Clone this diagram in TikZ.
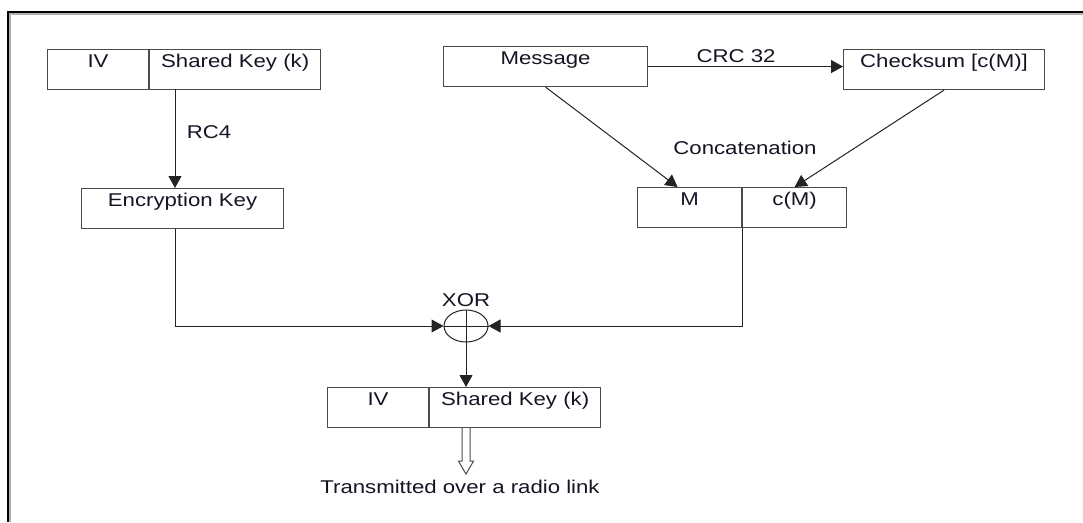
\documentclass[tikz,border=0pt]{standalone}
\usepackage{fontspec}
\setmainfont[FakeStretch=1.2]{Liberation Sans}
\usetikzlibrary{arrows.meta,positioning,calc,shapes.geometric}
\definecolor{wepline}{RGB}{35,35,35}
\definecolor{wepbox}{RGB}{75,75,75}
\definecolor{weptext}{RGB}{20,20,35}
\tikzset{
  cell/.style={draw=wepbox, line width=1.1pt, inner xsep=0pt, inner ysep=0pt,
               text height=18pt, text depth=22pt, anchor=north west,
               font=\fontsize{18.5pt}{20pt}\selectfont, text=weptext},
  lbl/.style={anchor=base, inner sep=0pt, font=\fontsize{18.5pt}{20pt}\selectfont, text=weptext},
  flowarr/.style={-{Triangle[length=12pt,width=13pt]}, wepline, line width=1pt},
  wire/.style={wepline, line width=1pt},
}
\begin{document}
\begin{tikzpicture}[x=1pt, y=-1pt]
  \useasboundingbox (0,0) rectangle (1083,522);
  % --- frame
  \draw[black!30, line width=2pt] (10,522) -- (10,14) -- (1083,14);
  \draw[black, line width=2pt] (8,522) -- (8,12) -- (1083,12);
  % --- key side
  \node[cell, minimum width=101pt] (iv1) at (47,49) {IV};
  \node[cell, minimum width=171pt] (sk1) at (iv1.north east) {Shared Key (k)};
  \coordinate (rctap) at (175,89);
  \node[cell, minimum width=202pt] (enc) at (81,188) {Encryption Key};
  \draw[flowarr] (rctap) -- (rctap |- enc.north);
  \node[lbl] (rc4) at (209,138) {RC4};
  % --- message side
  \node[cell, minimum width=204pt] (msg) at (443,46) {Message};
  \node[cell, minimum width=201pt] (chk) at (843,49) {Checksum [c(M)]};
  \draw[flowarr] (msg.east) -- (msg.east -| chk.west);
  \node[lbl] (crc) at (736,62) {CRC 32};
  \node[cell, minimum width=104pt] (m) at (637,187) {M};
  \node[cell, minimum width=104pt] (cm) at (m.north east) {c(M)};
  \draw[flowarr] (msg.south) -- ($(m.north)+(-12,0)$);
  \draw[flowarr] (chk.south) -- (cm.north);
  \node[lbl] (concat) at (745,154) {Concatenation};
  % --- xor
  \node[draw=wepline, line width=1pt, ellipse, minimum width=44pt, minimum height=32pt,
        inner sep=0pt] (xor) at (466,326) {};
  \draw[wire] (xor.north) -- (xor.south);
  \draw[wire] (xor.west) -- (xor.east);
  \node[lbl] (xorlbl) at (466,306) {XOR};
  \coordinate (enctap) at (175,229);
  \draw[flowarr] (enctap) |- (xor.west);
  \draw[flowarr] (cm.south west) |- (xor.east);
  % --- output
  \node[cell, minimum width=101pt] (ivb) at (327,387) {IV};
  \node[cell, minimum width=171pt] (skb) at (ivb.north east) {Shared Key (k)};
  \draw[flowarr] (xor.south) -- (xor.south |- skb.north);
  \coordinate (tx) at (xor.south |- skb.south);
  \draw[wepbox, line width=1pt, fill=white, line join=miter]
    ($(tx)+(-4,0)$) -- ($(tx)+(-4,33)$) -- ($(tx)+(-7.5,33)$) -- ($(tx)+(0,46)$)
    -- ($(tx)+(7.5,33)$) -- ($(tx)+(4,33)$) -- ($(tx)+(4,0)$);
  \node[lbl] (radio) at (460,493) {Transmitted over a radio link};
\end{tikzpicture}
\end{document}
